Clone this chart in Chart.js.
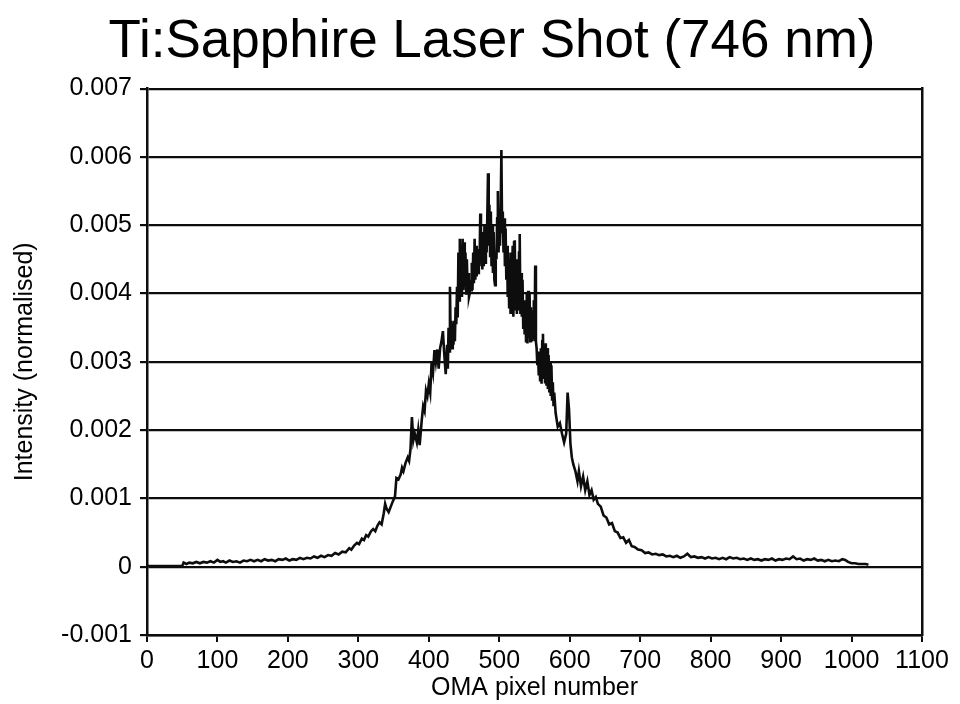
<!DOCTYPE html>
<html>
<head>
<meta charset="utf-8">
<script src="https://cdn.jsdelivr.net/npm/chart.js@4/dist/chart.umd.min.js"></script>
<style>
  html, body { margin: 0; padding: 0; background: #fff; }
  #wrap { width: 960px; height: 704px; }
</style>
</head>
<body>
<div id="wrap"><canvas id="c" width="960" height="704"></canvas></div>
<script>
const chartTitle = 'Ti:Sapphire Laser Shot (746 nm)';
const xAxisTitle = 'OMA pixel number';
const yAxisTitle = 'Intensity (normalised)';

const xTickValues = [0, 100, 200, 300, 400, 500, 600, 700, 800, 900, 1000, 1100];
const xTickLabels = ['0', '100', '200', '300', '400', '500', '600', '700', '800', '900', '1000', '1100'];
const yTickValues = [-0.001, 0, 0.001, 0.002, 0.003, 0.004, 0.005, 0.006, 0.007];
const yTickLabels = ['-0.001', '0', '0.001', '0.002', '0.003', '0.004', '0.005', '0.006', '0.007'];

const pixelNumber = [
  0, 10, 20, 30, 40, 50, 52, 56, 60, 65, 70, 75, 80, 85, 90, 95, 100, 104, 108, 112,
  117, 122, 127, 132, 137, 142, 147, 152, 157, 162, 167, 172, 177, 182, 187, 192, 197, 202, 207, 212,
  217, 222, 227, 232, 237, 242, 247, 252, 257, 262, 267, 272, 277, 282, 287, 290, 294, 298, 301, 305,
  308, 311, 314, 318, 321, 324, 327, 330, 333, 336, 338, 340, 343, 346, 349, 352, 354, 357, 360, 362,
  364, 367, 370, 372, 374, 376, 378, 380, 383, 385, 387, 390, 392, 394, 396, 398, 400, 402, 404, 406,
  408, 410, 412, 414, 416, 418, 420, 422, 424,
  426, 427, 428, 429, 430, 431, 432, 433, 434, 435, 436, 437, 438, 439, 440, 441, 442, 443, 444, 445,
  446, 447, 448, 449, 450, 451, 452, 453, 454, 455, 456, 457, 458, 459, 460, 461, 462, 463, 464, 465,
  466, 467, 468, 469, 470, 471, 472, 473, 474, 475, 476, 477, 478, 479, 480, 481, 482, 483, 484, 485,
  486, 487, 488, 489, 490, 491, 492, 493, 494, 495, 496, 497, 498, 499, 500, 501, 502, 503, 504, 505,
  506, 507, 508, 509, 510, 511, 512, 513, 514, 515, 516, 517, 518, 519, 520, 521, 522, 523, 524, 525,
  526, 527, 528, 529, 530, 531, 532, 533, 534, 535, 536, 537, 538, 539, 540, 541, 542, 543, 544, 545,
  546, 547, 548, 549, 550, 551, 552, 553, 554, 555, 556, 557, 558, 559, 560, 561, 562, 563, 564, 565,
  566, 567, 568, 569, 570, 571, 572, 573, 574, 575, 576, 577, 578,
  580, 583, 586, 589, 592, 595, 597, 599, 601, 603, 605, 608, 611, 613,
  616, 619, 622, 625, 628, 631, 634, 637, 640, 644, 648, 652, 656, 660, 664, 668, 672, 676, 680, 684,
  688, 692, 697, 702, 707, 712, 717, 722, 727, 732, 737, 742, 747, 752, 757, 762, 767, 772, 777, 782,
  787, 792, 797, 802, 807, 812, 817, 822, 827, 832, 837, 842, 847, 852, 857, 862, 867, 872, 877, 882,
  887, 892, 897, 902, 907, 912, 917, 922, 927, 932, 937, 942, 947, 952, 957, 962, 967, 972, 977, 982,
  987, 991, 995, 1000, 1005, 1010, 1015, 1020, 1024
];

const intensity = [
  0.00001, 0.00001, 0.00001, 0.00001, 0.00001, 0.00001, 0.00006, 0.00004, 0.00006, 0.00005,
  0.00007, 0.00005, 0.00007, 0.00006, 0.00008, 0.00006, 0.00010, 0.00007, 0.00008, 0.00006,
  0.00009, 0.00007, 0.00008, 0.00006, 0.00009, 0.00008, 0.00010, 0.00008, 0.00010, 0.00008,
  0.00011, 0.00009, 0.00010, 0.00008, 0.00011, 0.00010, 0.00012, 0.00009, 0.00011, 0.00010,
  0.00013, 0.00011, 0.00013, 0.00012, 0.00015, 0.00013, 0.00016, 0.00014, 0.00017, 0.00016,
  0.00020, 0.00018, 0.00022, 0.00021, 0.00027, 0.00025, 0.00031, 0.00035, 0.00033, 0.00041,
  0.00039, 0.00046, 0.00044, 0.00052, 0.00055, 0.00052, 0.00060, 0.00065, 0.00062, 0.00078,
  0.00092, 0.00085, 0.00080, 0.00088, 0.00096, 0.00103, 0.00130, 0.00128, 0.00135, 0.00145,
  0.00140, 0.00152, 0.00160, 0.00155, 0.00172, 0.00219, 0.00185, 0.00195, 0.00182, 0.00200,
  0.00178, 0.00215, 0.00235, 0.00228, 0.00258, 0.00250, 0.00268, 0.00255, 0.00300, 0.00285,
  0.00317, 0.00300, 0.00318, 0.00290, 0.00320, 0.00330, 0.00345, 0.00310, 0.00282,
  // 426 - 578
  0.00325, 0.00290, 0.00350, 0.00315, 0.00410, 0.00330, 0.00360, 0.00320, 0.00355, 0.00325,
  0.00360, 0.00330, 0.00380, 0.00355, 0.00410, 0.00365, 0.00460, 0.00390, 0.00480, 0.00400,
  0.00470, 0.00395, 0.00480, 0.00405, 0.00475, 0.00410, 0.00460, 0.00400, 0.00450, 0.00405,
  0.00430, 0.00395, 0.00400, 0.00420, 0.00405, 0.00445, 0.00405, 0.00460, 0.00415, 0.00480,
  0.00420, 0.00470, 0.00425, 0.00455, 0.00430, 0.00465, 0.00440, 0.00517, 0.00445, 0.00485,
  0.00435, 0.00490, 0.00440, 0.00500, 0.00445, 0.00490, 0.00460, 0.00510, 0.00576, 0.00470,
  0.00530, 0.00455, 0.00520, 0.00440, 0.00500, 0.00430, 0.00490, 0.00420, 0.00412, 0.00460,
  0.00450, 0.00510, 0.00550, 0.00460, 0.00510, 0.00470, 0.00520, 0.00610, 0.00490, 0.00520,
  0.00460, 0.00510, 0.00440, 0.00495, 0.00420, 0.00470, 0.00395, 0.00460, 0.00380, 0.00450,
  0.00370, 0.00460, 0.00370, 0.00470, 0.00366, 0.00475, 0.00478, 0.00375, 0.00450, 0.00370,
  0.00440, 0.00375, 0.00460, 0.00487, 0.00370, 0.00430, 0.00366, 0.00420, 0.00350, 0.00390,
  0.00340, 0.00390, 0.00330, 0.00400, 0.00327, 0.00404, 0.00335, 0.00400, 0.00330, 0.00380,
  0.00330, 0.00375, 0.00335, 0.00390, 0.00330, 0.00441, 0.00330, 0.00320, 0.00295, 0.00315,
  0.00280, 0.00310, 0.00273, 0.00320, 0.00268, 0.00330, 0.00341, 0.00275, 0.00320, 0.00270,
  0.00327, 0.00265, 0.00320, 0.00260, 0.00310, 0.00255, 0.00300, 0.00250, 0.00295, 0.00245,
  0.00270, 0.00235, 0.00255,
  // 580 onward
  0.00225, 0.00205, 0.00210, 0.00195, 0.00182, 0.00195, 0.00255, 0.00230, 0.00180, 0.00160,
  0.00150, 0.00140, 0.00125, 0.00140,
  0.00118, 0.00132, 0.00112, 0.00125, 0.00105, 0.00112, 0.00098, 0.00102, 0.00092, 0.00088,
  0.00075, 0.00072, 0.00062, 0.00064, 0.00052, 0.00050, 0.00042, 0.00043, 0.00035, 0.00039,
  0.00030, 0.00029, 0.00025, 0.00024, 0.00020, 0.00021, 0.00018, 0.00019, 0.00017, 0.00018,
  0.00015, 0.00016, 0.00014, 0.00016, 0.00013, 0.00015, 0.00019, 0.00014, 0.00015, 0.00013,
  0.00014, 0.00012, 0.00014, 0.00012, 0.00013, 0.00011, 0.00013, 0.00011, 0.00014, 0.00012,
  0.00013, 0.00011, 0.00012, 0.00010, 0.00012, 0.00010, 0.00011, 0.00009, 0.00011, 0.00010,
  0.00012, 0.00009, 0.00011, 0.00010, 0.00012, 0.00011, 0.00015, 0.00011, 0.00012, 0.00009,
  0.00011, 0.00010, 0.00012, 0.00009, 0.00010, 0.00008, 0.00010, 0.00008, 0.00009, 0.00008,
  0.00011, 0.00010, 0.00007, 0.00005, 0.00005, 0.00004, 0.00004, 0.00004, 0.00003
];

const FONT = '"Liberation Sans", Arial, Helvetica, sans-serif';
const INK = '#0d0d0d';

const points = pixelNumber.map((x, i) => ({ x: x, y: intensity[i] }));

new Chart(document.getElementById('c'), {
  type: 'line',
  data: {
    datasets: [{
      data: points,
      borderColor: INK,
      borderWidth: 2.6,
      pointRadius: 0,
      tension: 0,
      fill: false
    }]
  },
  options: {
    responsive: false,
    animation: false,
    devicePixelRatio: 1,
    layout: { padding: { left: 24, right: 0, top: 0, bottom: 0 } },
    plugins: {
      legend: { display: false },
      tooltip: { enabled: false },
      title: {
        display: true,
        text: chartTitle,
        color: '#000',
        font: { family: FONT, size: 53, weight: 'normal', lineHeight: 1.2 },
        padding: { top: 11, bottom: 14 }
      }
    },
    scales: {
      x: {
        type: 'linear',
        min: 0,
        max: 1100,
        afterFit: s => { s.height = 69; },
        afterBuildTicks: s => { s.ticks = xTickValues.map(v => ({ value: v })); },
        ticks: {
          color: '#000',
          font: { family: FONT, size: 25 },
          padding: 4,
          maxRotation: 0,
          autoSkip: false,
          callback: (v, i) => xTickLabels[i]
        },
        grid: { drawOnChartArea: false, drawTicks: true, tickLength: 7, color: INK, lineWidth: 2 },
        border: { display: true, color: INK, width: 2.5 },
        title: {
          display: true,
          text: xAxisTitle,
          color: '#000',
          font: { family: FONT, size: 25, lineHeight: 1.2 },
          padding: { top: 0, bottom: 1 }
        }
      },
      y: {
        type: 'linear',
        min: -0.001,
        max: 0.007,
        afterFit: s => { s.width = 123; },
        afterBuildTicks: s => { s.ticks = yTickValues.map(v => ({ value: v })); },
        ticks: {
          color: '#000',
          font: { family: FONT, size: 25 },
          padding: 8,
          autoSkip: false,
          callback: (v, i) => yTickLabels[i]
        },
        grid: { color: INK, lineWidth: 2.2, tickLength: 7, drawTicks: true },
        border: { display: true, color: INK, width: 2.5 },
        title: {
          display: true,
          text: yAxisTitle,
          color: '#000',
          font: { family: FONT, size: 25, lineHeight: 1.2 },
          padding: { top: -14, bottom: 0 }
        }
      },
      y2: {
        type: 'linear',
        position: 'right',
        min: -0.001,
        max: 0.007,
        afterFit: s => { s.width = 38; },
        ticks: { display: false },
        grid: { drawOnChartArea: false, drawTicks: false },
        border: { display: true, color: INK, width: 2.5 }
      }
    }
  }
});
</script>
</body>
</html>
